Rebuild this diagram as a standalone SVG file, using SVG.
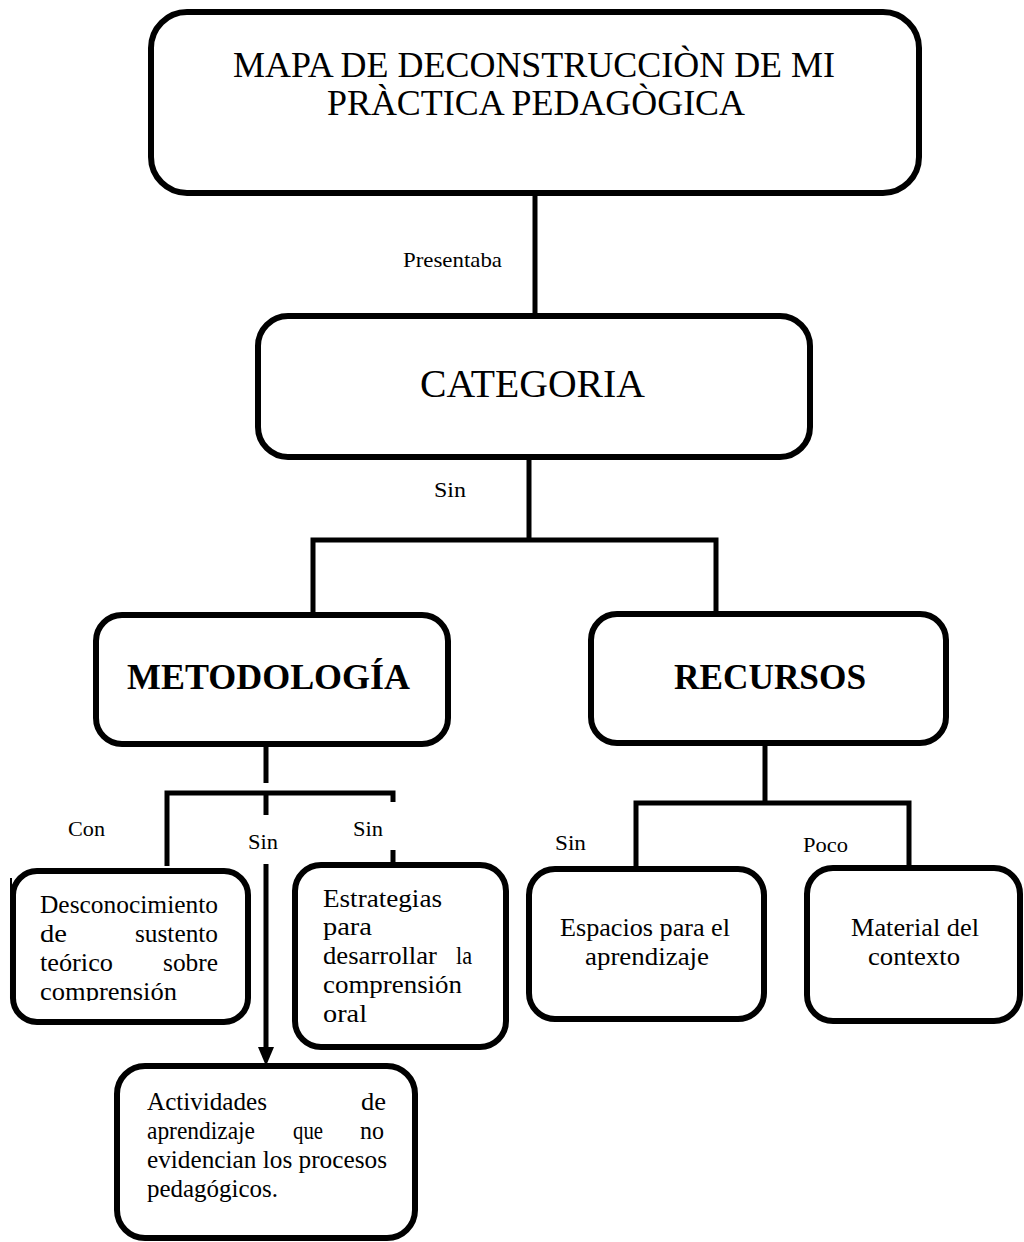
<svg xmlns="http://www.w3.org/2000/svg" width="1024" height="1242" viewBox="0 0 1024 1242">
<style>
.box{fill:#fff;stroke:#000;stroke-width:6}
.ln{fill:none;stroke:#000;stroke-width:5}
.t{font-family:"Liberation Serif","Times New Roman",serif;fill:#000}
.lbl{font-family:"Liberation Serif","Times New Roman",serif;font-size:22px;fill:#000}
.body{font-family:"Liberation Serif","Times New Roman",serif;font-size:25px;fill:#000}
</style>
<defs>
<clipPath id="clipDes"><rect x="0" y="860" width="260" height="141"/></clipPath>
</defs>
<rect width="1024" height="1242" fill="#fff"/>
<g id="connectors">
<line class="ln" x1="535" y1="194" x2="535" y2="322"/>
<line class="ln" x1="529" y1="457" x2="529" y2="540"/>
<polyline class="ln" points="313,615 313,540 716,540 716,614"/>
<line class="ln" x1="266" y1="744" x2="266" y2="783"/>
<polyline class="ln" points="167,866 167,793 393,793 393,802"/>
<line class="ln" x1="266" y1="793" x2="266" y2="815"/>
<line class="ln" x1="393" y1="850" x2="393" y2="864"/>
<line class="ln" x1="266" y1="864" x2="266" y2="1050"/>
<polygon points="258,1047 274,1047 266,1066" fill="#000"/>
<line class="ln" x1="765" y1="743" x2="765" y2="803"/>
<polyline class="ln" points="636,867 636,803 909,803 909,877"/>
<line x1="11" y1="878" x2="11" y2="906" stroke="#000" stroke-width="2"/>
</g>
<g id="lbl-presentaba"><text class="lbl" x="403" y="267" textLength="99" lengthAdjust="spacingAndGlyphs">Presentaba</text></g>
<g id="lbl-sin1"><text class="lbl" x="434" y="497" textLength="32" lengthAdjust="spacingAndGlyphs">Sin</text></g>
<g id="lbl-con"><text class="lbl" x="68" y="836" textLength="37" lengthAdjust="spacingAndGlyphs">Con</text></g>
<g id="lbl-sin2"><text class="lbl" x="248" y="849" textLength="30" lengthAdjust="spacingAndGlyphs">Sin</text></g>
<g id="lbl-sin3"><text class="lbl" x="353" y="836" textLength="30" lengthAdjust="spacingAndGlyphs">Sin</text></g>
<g id="lbl-sin4"><text class="lbl" x="555" y="850" textLength="31" lengthAdjust="spacingAndGlyphs">Sin</text></g>
<g id="lbl-poco"><text class="lbl" x="803" y="852" textLength="45" lengthAdjust="spacingAndGlyphs">Poco</text></g>

<g id="title">
<rect class="box" x="151" y="12" width="768" height="181" rx="36" stroke-width="7"/>
<text class="t" x="233" y="77" font-size="35" textLength="602" lengthAdjust="spacingAndGlyphs">MAPA DE DECONSTRUCCIÒN DE MI</text>
<text class="t" x="327" y="115" font-size="35" textLength="418" lengthAdjust="spacingAndGlyphs">PRÀCTICA PEDAGÒGICA</text>
</g>
<g id="categoria">
<rect class="box" x="258" y="316" width="552" height="141" rx="30" stroke-width="7"/>
<text class="t" x="420" y="397" font-size="40" textLength="225" lengthAdjust="spacingAndGlyphs">CATEGORIA</text>
</g>
<g id="metodologia">
<rect class="box" x="96" y="615" width="352" height="129" rx="26"/>
<text class="t" x="127" y="689" font-size="35" font-weight="bold" textLength="283" lengthAdjust="spacingAndGlyphs">METODOLOGÍA</text>
</g>
<g id="recursos">
<rect class="box" x="591" y="614" width="355" height="129" rx="26"/>
<text class="t" x="674" y="689" font-size="35" font-weight="bold" textLength="192" lengthAdjust="spacingAndGlyphs">RECURSOS</text>
</g>
<g id="desconocimiento">
<rect class="box" x="13" y="871" width="235" height="151" rx="24"/>
<g clip-path="url(#clipDes)">
<text class="body" x="40" y="913" textLength="178" lengthAdjust="spacingAndGlyphs">Desconocimiento</text>
<text class="body" x="40" y="942" textLength="27" lengthAdjust="spacingAndGlyphs">de</text>
<text class="body" x="135" y="942" textLength="83" lengthAdjust="spacingAndGlyphs">sustento</text>
<text class="body" x="40" y="971" textLength="73" lengthAdjust="spacingAndGlyphs">teórico</text>
<text class="body" x="163" y="971" textLength="55" lengthAdjust="spacingAndGlyphs">sobre</text>
<text class="body" x="40" y="1000" textLength="137" lengthAdjust="spacingAndGlyphs">comprensión</text>
</g>
</g>
<g id="estrategias">
<rect class="box" x="295" y="865" width="211" height="182" rx="26"/>
<text class="body" x="323" y="907" textLength="119" lengthAdjust="spacingAndGlyphs">Estrategias</text>
<text class="body" x="323" y="935" textLength="49" lengthAdjust="spacingAndGlyphs">para</text>
<text class="body" x="323" y="964" textLength="114" lengthAdjust="spacingAndGlyphs">desarrollar</text>
<text class="body" x="456" y="964" textLength="16" lengthAdjust="spacingAndGlyphs">la</text>
<text class="body" x="323" y="993" textLength="139" lengthAdjust="spacingAndGlyphs">comprensión</text>
<text class="body" x="323" y="1022" textLength="44" lengthAdjust="spacingAndGlyphs">oral</text>
</g>
<g id="actividades">
<rect class="box" x="117" y="1066" width="298" height="172" rx="28"/>
<text class="body" x="147" y="1110" textLength="120" lengthAdjust="spacingAndGlyphs">Actividades</text>
<text class="body" x="361" y="1110" textLength="25" lengthAdjust="spacingAndGlyphs">de</text>
<text class="body" x="147" y="1139" textLength="108" lengthAdjust="spacingAndGlyphs">aprendizaje</text>
<text class="body" x="293" y="1139" textLength="30" lengthAdjust="spacingAndGlyphs">que</text>
<text class="body" x="360" y="1139" textLength="24" lengthAdjust="spacingAndGlyphs">no</text>
<text class="body" x="147" y="1168" textLength="240" lengthAdjust="spacingAndGlyphs">evidencian los procesos</text>
<text class="body" x="147" y="1197" textLength="131" lengthAdjust="spacingAndGlyphs">pedagógicos.</text>
</g>
<g id="espacios">
<rect class="box" x="529" y="869" width="235" height="150" rx="26"/>
<text class="body" x="560" y="936" textLength="170" lengthAdjust="spacingAndGlyphs">Espacios para el</text>
<text class="body" x="585" y="965" textLength="124" lengthAdjust="spacingAndGlyphs">aprendizaje</text>
</g>
<g id="material">
<rect class="box" x="807" y="868" width="213" height="153" rx="26"/>
<text class="body" x="851" y="936" textLength="128" lengthAdjust="spacingAndGlyphs">Material del</text>
<text class="body" x="868" y="965" textLength="92" lengthAdjust="spacingAndGlyphs">contexto</text>
</g>
</svg>
